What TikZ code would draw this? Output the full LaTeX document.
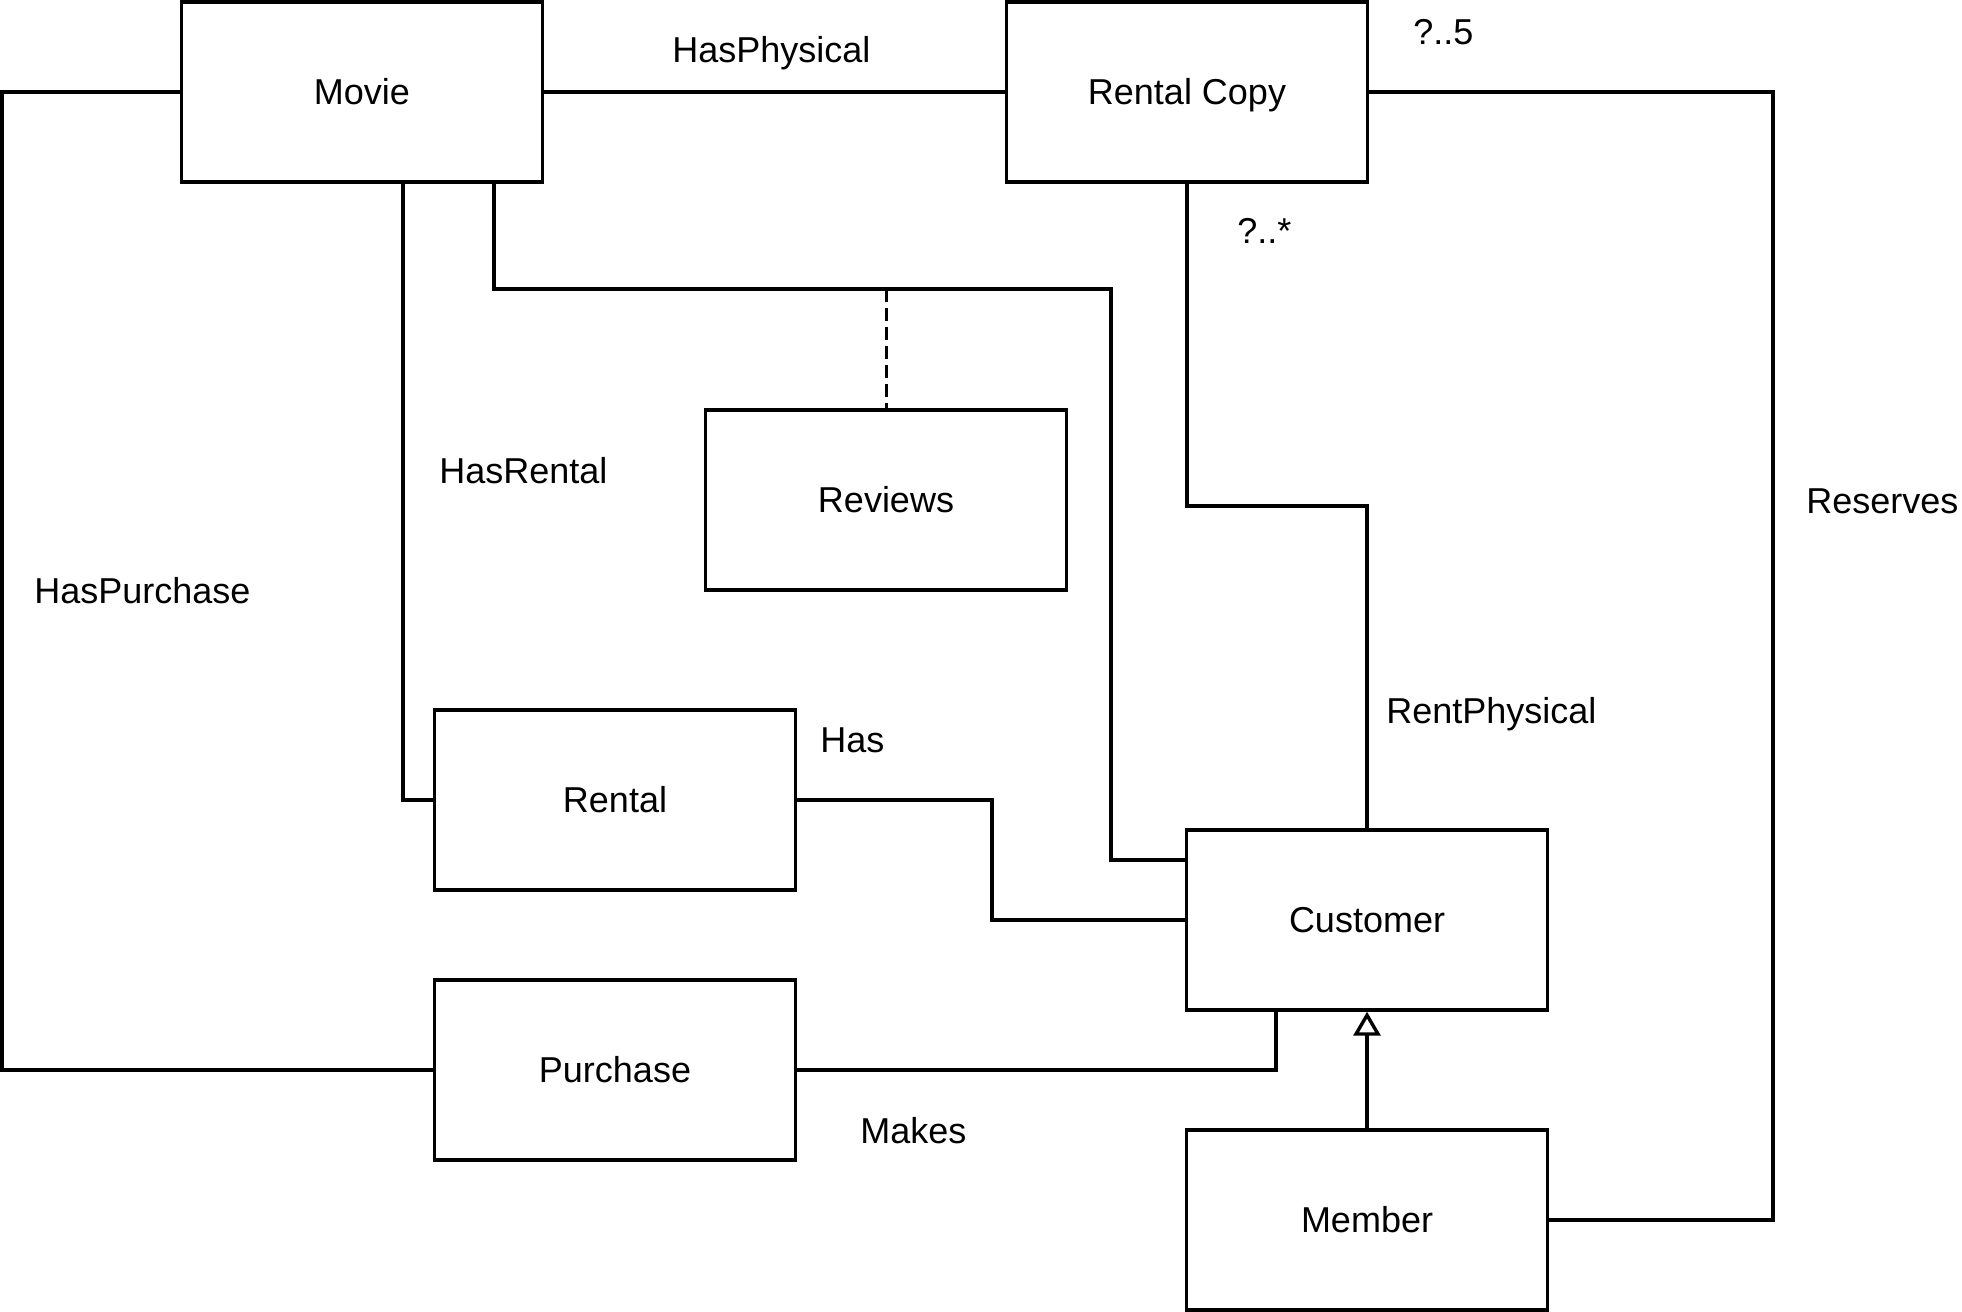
\documentclass[tikz,border=0pt]{standalone}
\usepackage{fontspec}
\setmainfont{Liberation Sans}
\usetikzlibrary{arrows.meta}
\begin{document}
\begin{tikzpicture}[x=0.5pt,y=-0.5pt,
  box/.style={draw=black, line width=1.7pt, fill=white, minimum width=180.5pt,
    minimum height=90pt, inner sep=0pt, text height=12.9pt, text depth=0pt,
    font=\fontsize{18}{21.6}\selectfont},
  lbl/.style={anchor=base west, inner sep=0pt, font=\fontsize{18}{21.6}\selectfont},
  conn/.style={draw=black, line width=1.7pt},
  dashconn/.style={draw=black, line width=1.5pt, dash pattern=on 6.5pt off 3pt},
  gen/.style={-{Triangle[open, length=12pt, width=13.5pt, fill=white]}}
  ]
\useasboundingbox (0,0) rectangle (1962,1311);

% classes
\node[box] (movie)    at (362,92)   {Movie};
\node[box] (copy)     at (1187,92)  {Rental Copy};
\node[box] (reviews)  at (886,500)  {Reviews};
\node[box] (rental)   at (615,800)  {Rental};
\node[box] (customer) at (1367,920) {Customer};
\node[box] (purchase) at (615,1070) {Purchase};
\node[box] (member)   at (1367,1220){Member};

% bend points
\coordinate (pl1) at (2,92);
\coordinate (pl2) at (2,1070);
\coordinate (hrx) at (403,0);
\coordinate (mc1) at (494,289);
\coordinate (mc2) at (1111,860);
\coordinate (rp)  at (0,506);
\coordinate (rs)  at (1773,0);
\coordinate (hs)  at (992,0);
\coordinate (mk)  at (1276,0);

% connectors
\draw[conn] (movie.east) -- (copy.west);
\draw[conn] (movie.west) -- (pl1) -- (pl2) -- (purchase.west);
\draw[conn] (movie.south -| hrx) |- (rental.west);
\draw[conn] (movie.south -| mc1) -- (mc1) -| (mc2) -- (customer.west |- mc2);
\draw[dashconn] (reviews.north |- mc1) -- (reviews.north);
\draw[conn] (copy.south) -- (copy.south |- rp) -| (customer.north);
\draw[conn] (copy.east) -- (copy.east -| rs) |- (member.east);
\draw[conn] (rental.east) -- (rental.east -| hs) |- (customer.west);
\draw[conn] (purchase.east) -| (customer.south -| mk);
\draw[conn, gen] (member.north) -- (customer.south);

% labels
\node[lbl] (lhasphys)  at (672,63)   {HasPhysical};
\node[lbl] (lhaspur)   at (34,603)   {HasPurchase};
\node[lbl] (lhasrent)  at (439,483)  {HasRental};
\node[lbl] (lfive)     at (1413,45)  {?..5};
\node[lbl] (lstar)     at (1237,243) {?..*};
\node[lbl] (lrentphys) at (1386,723) {RentPhysical};
\node[lbl] (lreserves) at (1806,513) {Reserves};
\node[lbl] (lhas)      at (820,752)  {Has};
\node[lbl] (lmakes)    at (860,1143) {Makes};
\end{tikzpicture}
\end{document}
